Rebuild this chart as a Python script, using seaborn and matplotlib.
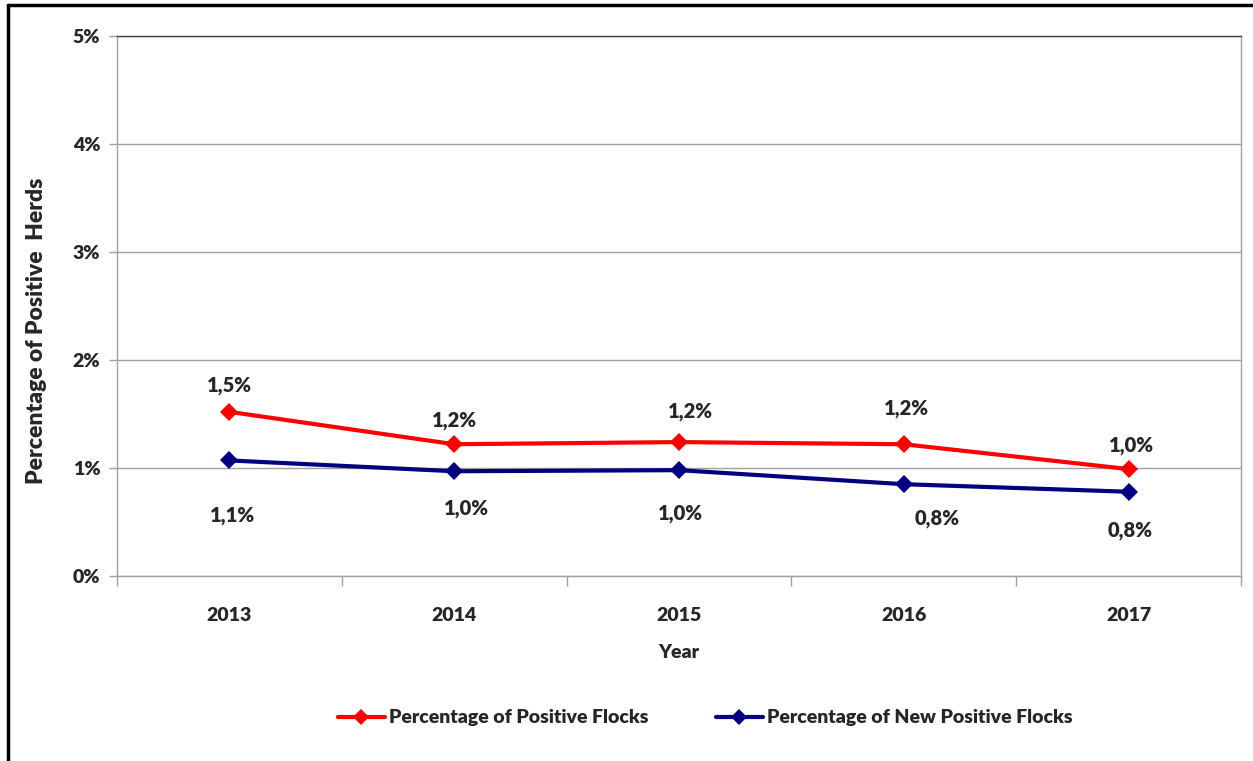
import matplotlib
matplotlib.use("Agg")
from matplotlib import pyplot as plt
from matplotlib.lines import Line2D
from matplotlib.ticker import FixedLocator, FuncFormatter
import pandas as pd
import seaborn as sns

years = ["2013", "2014", "2015", "2016", "2017"]
positive = [1.52, 1.22, 1.24, 1.22, 0.99]
new_positive = [1.07, 0.97, 0.98, 0.85, 0.78]
positive_labels = ["1,5%", "1,2%", "1,2%", "1,2%", "1,0%"]
new_positive_labels = ["1,1%", "1,0%", "1,0%", "0,8%", "0,8%"]
series_names = ["Percentage of Positive Flocks", "Percentage of New Positive Flocks"]

df = pd.DataFrame({
    "Year": years * 2,
    "Value": positive + new_positive,
    "Series": [series_names[0]] * 5 + [series_names[1]] * 5,
})

sns.set_style("white")
plt.rcParams["font.family"] = ["Lato", "DejaVu Sans"]
W = "heavy"
plt.rcParams["font.weight"] = W

fig = plt.figure(figsize=(12.53, 7.61), dpi=100)
ax = fig.add_axes([117 / 1253, 185 / 761, 1124 / 1253, 540 / 761])

ax = sns.lineplot(data=df, x="Year", y="Value", hue="Series", style="Series",
                  palette=["#FF0000", "#000080"], markers=["D", "D"], dashes=False,
                  linewidth=3, markersize=9, markeredgewidth=0, ax=ax, legend=False)

# data labels (offsets in points)
red_off = [(0, 19), (0, 17), (8, 22), (2, 26), (2, 17)]
blue_off = [(2, -40), (9, -27), (1, -31), (24, -25), (1, -28)]
for i, (lab, off) in enumerate(zip(positive_labels, red_off)):
    ax.annotate(lab, (i, positive[i]), xytext=off, textcoords="offset points",
                ha="center", va="center", fontsize=14.5, fontweight=W)
for i, (lab, off) in enumerate(zip(new_positive_labels, blue_off)):
    ax.annotate(lab, (i, new_positive[i]), xytext=off, textcoords="offset points",
                ha="center", va="center", fontsize=14.5, fontweight=W)

ax.set_xlim(-0.5, 4.5)
ax.set_ylim(0, 5)
ax.set_yticks([0, 1, 2, 3, 4, 5])
ax.yaxis.set_major_formatter(FuncFormatter(lambda v, p: f"{int(v)}%"))
ax.xaxis.set_minor_locator(FixedLocator([-0.5, 0.5, 1.5, 2.5, 3.5, 4.5]))
ax.tick_params(axis="x", which="major", length=0, labelsize=14, pad=22)
ax.tick_params(axis="x", which="minor", length=7, color="#A0A0A0", width=1, bottom=True)
ax.tick_params(axis="y", length=6, color="#A0A0A0", width=1, labelsize=14, pad=6, left=True)
for lab in ax.get_xticklabels() + ax.get_yticklabels():
    lab.set_fontweight(W)

ax.grid(axis="y", color="#A0A0A0", linewidth=1)
ax.set_axisbelow(True)
for side in ["left", "bottom", "right"]:
    ax.spines[side].set_color("#A0A0A0")
    ax.spines[side].set_linewidth(1)
ax.spines["top"].set_color("#404040")
ax.spines["top"].set_linewidth(1)

ax.set_xlabel("Year", fontsize=14, fontweight=W, labelpad=15)
ax.set_ylabel("Percentage of Positive  Herds", fontsize=16.5, fontweight=W)
ax.yaxis.set_label_coords(-0.062, 0.454)

handles = [Line2D([], [], color=c, marker="D", markersize=8, linewidth=3, markeredgewidth=0)
           for c in ["#FF0000", "#000080"]]
fig.legend(handles, series_names, loc="center", bbox_to_anchor=(705 / 1253, 1 - 718 / 761),
           ncol=2, frameon=False, handlelength=2.4, handletextpad=0.2, columnspacing=3.5,
           prop={"size": 14, "weight": W})

# outer chart frame (left and top edges visible)
fig.add_artist(Line2D([8 / 1253, 8 / 1253], [0, 1 - 5 / 761], color="black", linewidth=2.5,
                      transform=fig.transFigure))
fig.add_artist(Line2D([8 / 1253, 1], [1 - 5 / 761, 1 - 5 / 761], color="black", linewidth=2.5,
                      transform=fig.transFigure))

fig.savefig("out.png", dpi=100)
